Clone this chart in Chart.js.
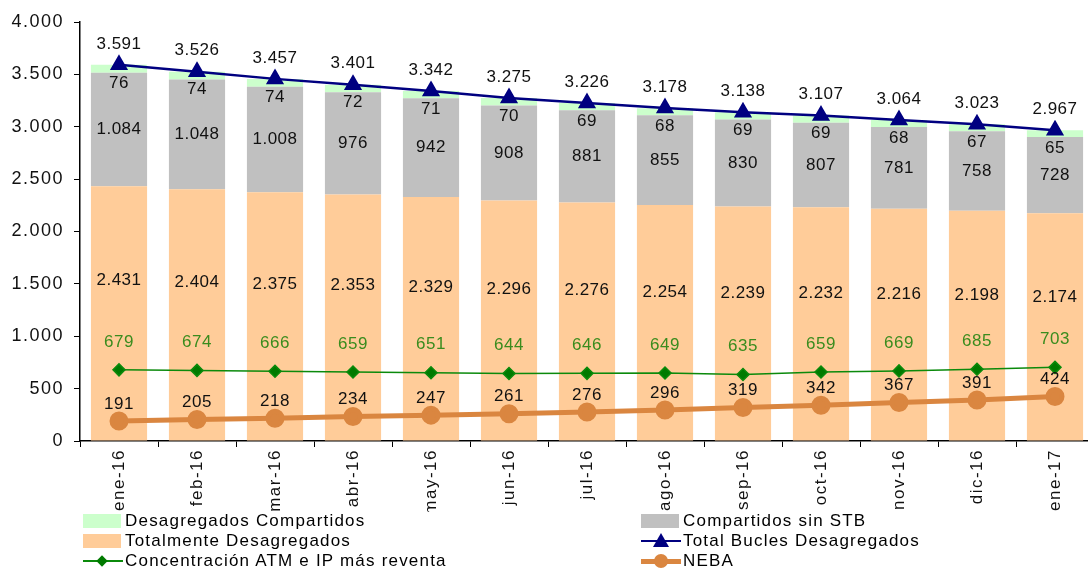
<!DOCTYPE html>
<html>
<head>
<meta charset="utf-8">
<script src="https://cdn.jsdelivr.net/npm/chart.js@4.4.1/dist/chart.umd.min.js"></script>
<style>
  html, body { margin: 0; padding: 0; background: #fff; overflow: hidden; }
  #wrap { position: relative; width: 1106px; height: 570px; }
  #chartBox { position: absolute; left: 0; top: 0; width: 1106px; height: 512px; }
  #myChart { display: block; width: 1106px; height: 512px; }
  #legend { position: absolute; left: 0; top: 512px; width: 1088px; height: 58px;
            font-family: "Liberation Sans", Arial, sans-serif; font-size: 17px; color: #000; }
  .item { position: absolute; height: 20px; line-height: 20px; white-space: nowrap; }
  .sw { position: absolute; left: 0; top: 3px; width: 38px; height: 14px; }
  .ln { position: absolute; left: 0; top: 9px; width: 40px; height: 3px; }
  .mk { position: absolute; }
  .txt { position: absolute; left: 42px; top: 0; letter-spacing: 1.2px; }
</style>
</head>
<body>
<div id="wrap">
  <div id="chartBox"><canvas id="myChart" width="1106" height="512"></canvas></div>
  <div id="legend"></div>
</div>
<script>
var months = ["ene-16", "feb-16", "mar-16", "abr-16", "may-16", "jun-16", "jul-16", "ago-16", "sep-16", "oct-16", "nov-16", "dic-16", "ene-17"];

var totalmente = [2431, 2404, 2375, 2353, 2329, 2296, 2276, 2254, 2239, 2232, 2216, 2198, 2174];
var compartidosSinStb = [1084, 1048, 1008, 976, 942, 908, 881, 855, 830, 807, 781, 758, 728];
var desagCompartidos = [76, 74, 74, 72, 71, 70, 69, 68, 69, 69, 68, 67, 65];
var totalBucles = [3591, 3526, 3457, 3401, 3342, 3275, 3226, 3178, 3138, 3107, 3064, 3023, 2967];
var concentracionAtm = [679, 674, 666, 659, 651, 644, 646, 649, 635, 659, 669, 685, 703];
var neba = [191, 205, 218, 234, 247, 261, 276, 296, 319, 342, 367, 391, 424];

var yTicks = [0, 500, 1000, 1500, 2000, 2500, 3000, 3500, 4000];

function fmt(v){
    // spanish thousands separator
    return String(v).replace(/\B(?=(\d{3})+(?!\d))/g, '.');
}

var FONT = '"Liberation Sans", Arial, sans-serif';

// excel text looks stretched, so the axis labels get some letter spacing
var spacing = {
    id: 'spacing',
    beforeDraw: function(chart){ chart.ctx.letterSpacing = '1.5px'; },
    beforeDatasetsDraw: function(chart){ chart.ctx.letterSpacing = '0px'; }
};

// draws the value labels like the excel chart does
var valueLabels = {
    id: 'valueLabels',
    afterDatasetsDraw: function(chart){
        var ctx = chart.ctx;
        ctx.save();
        ctx.letterSpacing = '0.5px';
        ctx.font = '17px ' + FONT;
        ctx.textAlign = 'center';
        ctx.textBaseline = 'middle';
        chart.data.datasets.forEach(function(ds, di){
            var meta = chart.getDatasetMeta(di);
            meta.data.forEach(function(el, i){
                var v = ds.data[i];
                var x = el.x, y;
                if (ds.labelPos == 'peach'){
                    y = el.y + (el.base - el.y) * 0.37;
                } else if (ds.labelPos == 'center'){
                    y = (el.y + el.base) / 2;
                } else if (ds.labelPos == 'belowTop'){
                    y = el.y + 18;
                } else {
                    y = el.y + ds.labelOffset;
                }
                ctx.fillStyle = ds.labelColor || '#111';
                ctx.fillText(fmt(v), x, y);
            });
        });
        ctx.restore();
    }
};

var ctx = document.getElementById('myChart').getContext('2d');
var chart = new Chart(ctx, {
    type: 'bar',
    data: {
        labels: months,
        datasets: [
            {
                type: 'line',
                label: 'Total Bucles Desagregados',
                data: totalBucles,
                stack: 'l1',
                borderColor: '#000080',
                backgroundColor: '#000080',
                borderWidth: 2.5,
                pointStyle: 'triangle',
                pointRadius: 8,
                labelOffset: -21,
                order: 1
            },
            {
                type: 'line',
                label: 'Concentración ATM e IP más reventa',
                data: concentracionAtm,
                stack: 'l2',
                borderColor: '#0B8A0B',
                backgroundColor: '#007A00',
                borderWidth: 1.5,
                pointStyle: 'rectRot',
                pointRadius: 6,
                labelOffset: -28,
                labelColor: '#3A8C1E',
                order: 1
            },
            {
                type: 'line',
                label: 'NEBA',
                data: neba,
                stack: 'l3',
                borderColor: '#DA8640',
                backgroundColor: '#DA8640',
                borderWidth: 5,
                pointStyle: 'circle',
                pointRadius: 7,
                labelOffset: -17,
                order: 1
            },
            {
                label: 'Totalmente Desagregados',
                data: totalmente,
                stack: 'bars',
                backgroundColor: '#FFCC99',
                labelPos: 'peach',
                order: 2
            },
            {
                label: 'Compartidos sin STB',
                data: compartidosSinStb,
                stack: 'bars',
                backgroundColor: '#C0C0C0',
                labelPos: 'center',
                order: 2
            },
            {
                label: 'Desagregados Compartidos',
                data: desagCompartidos,
                stack: 'bars',
                backgroundColor: '#CCFFCC',
                labelPos: 'belowTop',
                order: 2
            }
        ]
    },
    options: {
        responsive: false,
        animation: false,
        layout: { padding: { top: 22, right: 2, left: 0, bottom: 0 } },
        datasets: {
            bar: { categoryPercentage: 1, barPercentage: 0.72 }
        },
        plugins: {
            legend: { display: false },
            tooltip: { enabled: false }
        },
        scales: {
            x: {
                stacked: true,
                border: { color: '#000', width: 1.5 },
                grid: { display: true, drawOnChartArea: false, color: '#000', tickLength: 6, offset: true },
                ticks: {
                    minRotation: 90,
                    maxRotation: 90,
                    color: '#111',
                    font: { family: FONT, size: 17 },
                    padding: 2
                },
                afterFit: function(scale){
                    scale.height = 71;
                    scale.paddingLeft = 0;
                    scale.paddingRight = 0;
                }
            },
            y: {
                stacked: true,
                min: 0,
                max: 4000,
                border: { color: '#000', width: 1.5 },
                grid: { display: true, drawOnChartArea: false, color: '#000', tickLength: 6 },
                afterBuildTicks: function(scale){
                    scale.ticks = yTicks.map(function(v){ return { value: v }; });
                },
                ticks: {
                    color: '#111',
                    font: { family: FONT, size: 18 },
                    padding: 10,
                    callback: function(v){ return fmt(v); }
                },
                afterFit: function(scale){ scale.width = 80; }
            }
        }
    },
    plugins: [spacing, valueLabels]
});

// legend built from the datasets, two columns like the original
var legendOrder = [
    ['Desagregados Compartidos', 83, -1],
    ['Compartidos sin STB', 641, -1],
    ['Totalmente Desagregados', 83, 19],
    ['Total Bucles Desagregados', 641, 19],
    ['Concentración ATM e IP más reventa', 83, 39],
    ['NEBA', 641, 39]
];
var legendHtml = '';
legendOrder.forEach(function(it){
    var ds = chart.data.datasets.find(function(d){ return d.label == it[0]; });
    var mark = '';
    if (ds.type == 'line'){
        var lw = Math.max(2, ds.borderWidth);
        mark = '<div class="ln" style="background:' + ds.borderColor + ';height:' + lw + 'px;top:' + (10 - lw / 2) + 'px"></div>';
        if (ds.pointStyle == 'triangle'){
            mark += '<div class="mk" style="left:12px;top:2px;width:0;height:0;border-left:8px solid transparent;border-right:8px solid transparent;border-bottom:14px solid ' + ds.backgroundColor + '"></div>';
        } else if (ds.pointStyle == 'rectRot'){
            mark += '<div class="mk" style="left:15px;top:6px;width:8px;height:8px;transform:rotate(45deg);background:' + ds.backgroundColor + '"></div>';
        } else {
            mark += '<div class="mk" style="left:13px;top:3px;width:14px;height:14px;border-radius:7px;background:' + ds.backgroundColor + '"></div>';
        }
    } else {
        mark = '<div class="sw" style="background:' + ds.backgroundColor + '"></div>';
    }
    legendHtml += '<div class="item" style="left:' + it[1] + 'px;top:' + it[2] + 'px">' + mark + '<span class="txt">' + it[0] + '</span></div>';
});
document.getElementById('legend').innerHTML = legendHtml;
</script>
</body>
</html>
